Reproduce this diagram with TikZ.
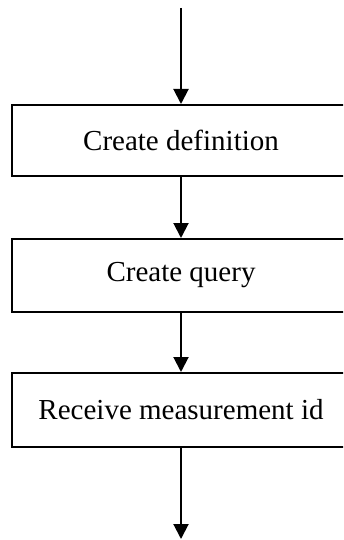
\documentclass[tikz,border=0pt]{standalone}
\usepackage{fontspec}
\setmainfont{Liberation Serif}
\usetikzlibrary{arrows.meta}
\begin{document}
\begin{tikzpicture}[x=1pt,y=-1pt,
  stepbox/.style={draw, line width=2pt, minimum width=338pt, inner sep=0pt,
    font=\fontsize{29}{34}\selectfont},
  flow/.style={line width=2pt, -{Triangle[width=15pt,length=15pt]}}]
  \useasboundingbox (0,0) rectangle (343,540);
  \clip (0,0) rectangle (343,540);

  \coordinate (start) at (181,8);
  \node[stepbox, minimum height=71pt] (def) at (181,140.5) {Create definition};
  \node[stepbox, minimum height=73pt] (qry) at (181,275.5) {Create query};
  \node[stepbox, minimum height=74pt] (rcv) at (181,410) {Receive measurement id};
  \coordinate (end) at (181,539);

  \draw[flow] (start) -- (def.north);
  \draw[flow] (def.south) -- (qry.north);
  \draw[flow] (qry.south) -- (rcv.north);
  \draw[flow] (rcv.south) -- (end);
\end{tikzpicture}
\end{document}
